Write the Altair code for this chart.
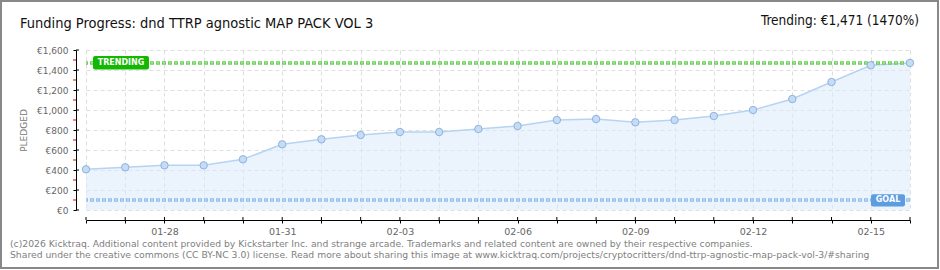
import altair as alt
import pandas as pd

# ---------------- data ----------------
dates = ["2026-01-26", "2026-01-27", "2026-01-28", "2026-01-29", "2026-01-30", "2026-01-31",
         "2026-02-01", "2026-02-02", "2026-02-03", "2026-02-04", "2026-02-05", "2026-02-06",
         "2026-02-07", "2026-02-08", "2026-02-09", "2026-02-10", "2026-02-11", "2026-02-12",
         "2026-02-13", "2026-02-14", "2026-02-15", "2026-02-16"]
pledged = [407, 427, 447, 447, 507, 657, 707, 750, 780, 780, 810, 840,
           900, 910, 877, 900, 940, 1000, 1110, 1280, 1447, 1471]
goal = 100
trending = 1471
y_major = [0, 200, 400, 600, 800, 1000, 1200, 1400, 1600]
y_minor = [100, 300, 500, 700, 900, 1100, 1300, 1500]
title_text = "Funding Progress: dnd TTRP agnostic MAP PACK VOL 3"
trend_text = "Trending: €1,471 (1470%)"
footer_lines = [
    "(c)2026 Kicktraq. Additional content provided by Kickstarter Inc. and strange arcade. Trademarks and related content are owned by their respective companies.",
    "Shared under the creative commons (CC BY-NC 3.0) license. Read more about sharing this image at www.kicktraq.com/projects/cryptocritters/dnd-ttrp-agnostic-map-pack-vol-3/#sharing",
]

df = pd.DataFrame({"date": dates, "pledged": pledged})
one = pd.DataFrame({"k": [0]})
minor_df = pd.DataFrame({"pledged": y_minor})
major_df = pd.DataFrame({"pledged": y_major})
day_df = pd.DataFrame({"date": dates})


def dt(s):
    y, m, d = (int(v) for v in s.split("-"))
    return alt.DateTime(year=y, month=m, date=d, utc=True)


W, H = 824, 160
LABEL_FONT = "DejaVu Sans"
TITLE_FONT = "DejaVu Sans Condensed, DejaVu Sans, sans-serif"

x_scale = alt.Scale(type="utc", domain=[dt(dates[0]), dt(dates[-1])])
x_axis = alt.Axis(
    values=[dt(d) for d in dates],
    labelExpr="(round((datum.value - utc(2026,0,26))/86400000) % 3 == 2) ? utcFormat(datum.value, '%m-%d') : ''",
    offset=10,
    domainColor="#000",
    tickColor="#000",
    tickSize=3,
    labelColor="#666",
    labelFont=LABEL_FONT,
    labelFontSize=9.5,
    labelPadding=3,
    grid=True,
    gridColor="#dedede",
    gridDash=[4, 3],
    labelOverlap=False,
)
x_enc = alt.X("date:T", title=None, scale=x_scale, axis=x_axis)

y_scale = alt.Scale(domain=[0, 1600], nice=False)
y_axis = alt.Axis(
    values=y_major,
    labelExpr="'€' + format(datum.value, ',d')",
    orient="left",
    offset=10,
    domainColor="#000",
    tickColor="#000",
    tickSize=3,
    labelColor="#666",
    labelFont=LABEL_FONT,
    labelFontSize=9,
    labelPadding=5,
    labelOverlap=False,
    grid=True,
    gridColor="#dedede",
    gridDash=[4, 3],
    titleColor="#777",
    titleFont=LABEL_FONT,
    titleFontSize=9,
    titleFontWeight="normal",
    titlePadding=8,
)


def yf(field="pledged"):
    return alt.Y(f"{field}:Q", title="PLEDGED", scale=y_scale, axis=y_axis)


def yd(v):
    return alt.YDatum(v, title="PLEDGED", scale=y_scale, axis=y_axis)


base = alt.Chart(df)

area = base.mark_area(color="#dbe9fa", opacity=0.55).encode(x=x_enc, y=yf())
line = base.mark_line(color="#b6d3f3", strokeWidth=1.5).encode(x=x_enc, y=yf())
points = base.mark_point(filled=True, fill="#c4dcf6", stroke="#8fb2dc", strokeWidth=1,
                         size=55, opacity=1, shape="circle").encode(x=x_enc, y=yf())

# red minor ticks on the left of the y axis line, and inward halves of the major ticks
minor_ticks = alt.Chart(minor_df).mark_rule(color="#e00000", strokeWidth=1).encode(
    y=yf(), x=alt.value(-13), x2=alt.value(-10))
major_in = alt.Chart(major_df).mark_rule(color="#000", strokeWidth=1).encode(
    y=yf(), x=alt.value(-10), x2=alt.value(-7))
# upward halves of the x-axis day ticks
x_in = alt.Chart(day_df).mark_rule(color="#000", strokeWidth=1).encode(
    x=x_enc, y=alt.value(H + 7), y2=alt.value(H + 10))

ann = alt.Chart(one)

trend_outer = ann.mark_rule(color="#6fcd5c", strokeWidth=3.5, strokeDash=[4, 2]).encode(
    y=yd(trending))
trend_inner = ann.mark_rule(color="#c8efc0", strokeWidth=1, strokeDash=[2, 4],
                            strokeDashOffset=-1).encode(y=yd(trending))
goal_outer = ann.mark_rule(color="#93bde9", strokeWidth=3.5, strokeDash=[4, 2]).encode(
    y=yd(goal))
goal_inner = ann.mark_rule(color="#d9e9fa", strokeWidth=1, strokeDash=[2, 4],
                           strokeDashOffset=-1).encode(y=yd(goal))

trend_box = ann.mark_rect(color="#13b800", cornerRadius=2).encode(
    x=alt.value(7), x2=alt.value(63), y=yd(trending + 68), y2=alt.datum(trending - 65))
trend_lbl = ann.mark_text(text="TRENDING", color="white", font=LABEL_FONT, fontSize=8,
                          fontWeight="bold", align="center", baseline="middle").encode(
    x=alt.value(35), y=yd(trending))
goal_box = ann.mark_rect(color="#5c9de2", cornerRadius=2).encode(
    x=alt.value(785), x2=alt.value(819), y=yd(goal + 58), y2=alt.datum(goal - 66))
goal_lbl = ann.mark_text(text="GOAL", color="white", font=LABEL_FONT, fontSize=8,
                         fontWeight="bold", align="center", baseline="middle").encode(
    x=alt.value(802), y=yd(goal))

title = ann.mark_text(text=title_text, font=TITLE_FONT, fontSize=14.5, color="#111",
                      align="left", baseline="middle").encode(
    x=alt.value(-66), y=alt.value(-26))
trend_title = ann.mark_text(text=trend_text, font=TITLE_FONT, fontSize=13.5, color="#111",
                            align="right", baseline="middle").encode(
    x=alt.value(833), y=alt.value(-29))
foot1 = ann.mark_text(text=footer_lines[0], font=LABEL_FONT, fontSize=9.25, color="#808080",
                      align="left", baseline="middle").encode(
    x=alt.value(-76), y=alt.value(194))
foot2 = ann.mark_text(text=footer_lines[1], font=LABEL_FONT, fontSize=9.25, color="#808080",
                      align="left", baseline="middle").encode(
    x=alt.value(-76), y=alt.value(205))
border = ann.mark_rect(fill=None, stroke="#888", strokeWidth=2).encode(
    x=alt.value(-85), x2=alt.value(852), y=alt.value(-49), y2=alt.value(218))

chart = alt.layer(area, line, goal_outer, goal_inner, trend_outer, trend_inner, points,
                  trend_box, trend_lbl, goal_box, goal_lbl, minor_ticks, major_in, x_in,
                  title, trend_title, foot1, foot2, border).properties(
    width=W, height=H,
    autosize=alt.AutoSizeParams(type="none"),
    padding={"left": 86, "top": 50, "right": 30, "bottom": 60},
    background="white",
).configure_view(stroke=None)

chart.save("out.html", embed_options={"renderer": "svg", "actions": False})
